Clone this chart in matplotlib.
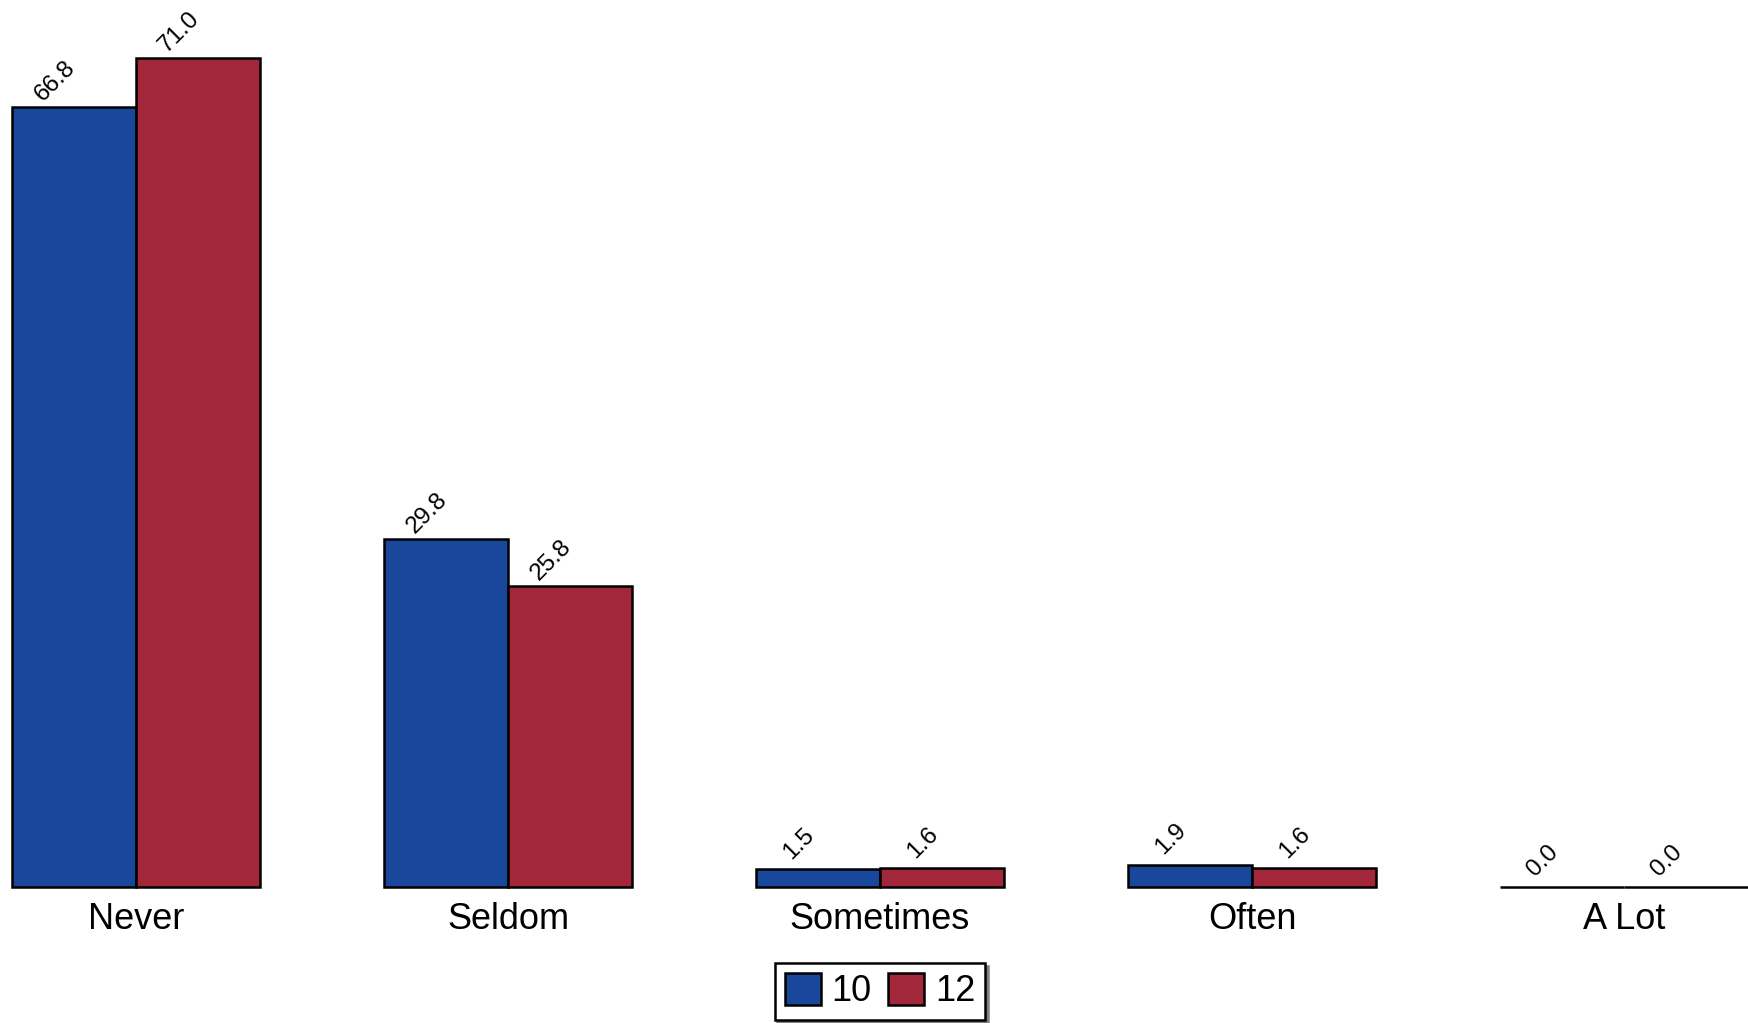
import matplotlib
matplotlib.use("Agg")
import matplotlib.pyplot as plt
import numpy as np

# survey answers, grade 10 vs grade 12 (percent)
categories = ["Never", "Seldom", "Sometimes", "Often", "A Lot"]
grade10 = [66.8, 29.8, 1.5, 1.9, 0.0]
grade12 = [71.0, 25.8, 1.6, 1.6, 0.0]
series_names = ["10", "12"]

blue = "#19479b"
red = "#a3273b"

plt.rcParams["font.family"] = ["Liberation Sans", "DejaVu Sans"]

fig = plt.figure(figsize=(17.48, 10.23), dpi=100)
W, H = 1748, 1023
left_px, base_px = 12, 887
ax = fig.add_axes([left_px / W, (H - base_px) / H, (W - left_px) / W, base_px / H])

x = np.arange(len(categories))
bw = 1 / 3
b1 = ax.bar(x - bw / 2, grade10, bw, color=blue, edgecolor="black", linewidth=1.8,
            label=series_names[0], clip_on=False)
b2 = ax.bar(x + bw / 2, grade12, bw, color=red, edgecolor="black", linewidth=1.8,
            label=series_names[1], clip_on=False)

for bars, vals in ((b1, grade10), (b2, grade12)):
    for r, v in zip(bars, vals):
        ax.annotate(f"{v:.1f}", (r.get_x() + r.get_width() / 2, v),
                    xytext=(-8, 13), textcoords="offset points",
                    rotation=45, rotation_mode="anchor", ha="center", va="bottom",
                    fontsize=17.5)

ax.set_xlim(-bw, len(categories) - 1 + bw)
ax.set_ylim(0, 71.0 / 829 * 887)
ax.set_xticks(x)
ax.set_xticklabels(categories, fontsize=26)
ax.tick_params(axis="x", length=0, pad=11)
ax.set_yticks([])
for s in ax.spines.values():
    s.set_visible(False)

leg = ax.legend(loc="upper center", bbox_to_anchor=(0.5, -0.0855), ncol=2,
                fontsize=26, frameon=True, fancybox=False, shadow={"color": "0.5", "alpha": 1},
                edgecolor="black", handlelength=1.0, handleheight=1.0,
                handletextpad=0.3, columnspacing=0.45, borderpad=0.28, borderaxespad=0)
leg.get_frame().set_linewidth(1.8)

fig.savefig("out.png", dpi=100)
